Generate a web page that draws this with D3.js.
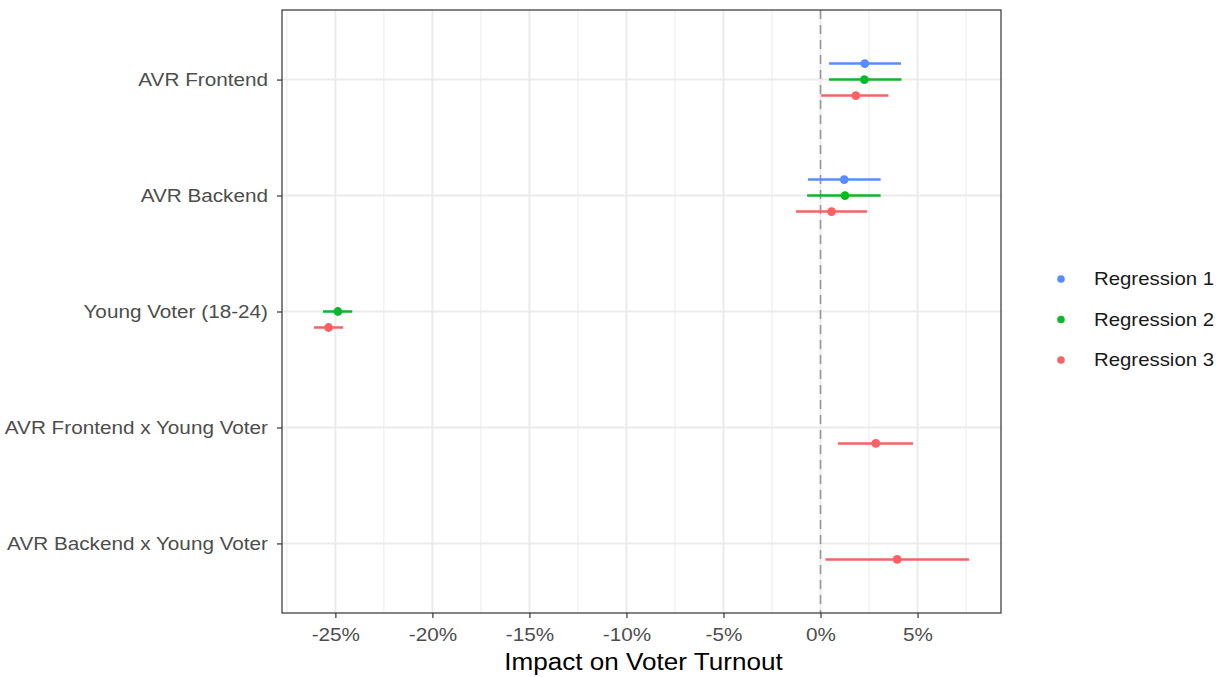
<!DOCTYPE html>
<html>
<head>
<meta charset="utf-8">
<script src="https://cdn.jsdelivr.net/npm/d3@7"></script>
<style>
  body { margin: 0; background: #fff; }
  svg { font-family: "Liberation Sans", Arial, sans-serif; }
</style>
</head>
<body>
<svg id="canvas" width="1225" height="677"></svg>
<script>
// chart values
let categories = ["AVR Frontend", "AVR Backend", "Young Voter (18-24)",
  "AVR Frontend x Young Voter", "AVR Backend x Young Voter"];
let seriesNames = ["Regression 1", "Regression 2", "Regression 3"];
let seriesColors = ["#5A8DFB", "#10B52E", "#F36464"];

let reg1Est = [2.28, 1.22, null, null, null];
let reg1Low = [0.44, -0.65, null, null, null];
let reg1High = [4.15, 3.10, null, null, null];

let reg2Est = [2.26, 1.26, -24.87, null, null];
let reg2Low = [0.44, -0.69, -25.64, null, null];
let reg2High = [4.17, 3.10, -24.13, null, null];

let reg3Est = [1.82, 0.57, -25.35, 2.85, 3.95];
let reg3Low = [0.03, -1.27, -26.10, 0.90, 0.25];
let reg3High = [3.50, 2.40, -24.60, 4.77, 7.66];

let xTicks = [-25, -20, -15, -10, -5, 0, 5];
let xMinor = [-27.5, -22.5, -17.5, -12.5, -7.5, -2.5, 2.5, 7.5];

let estimates = [reg1Est, reg2Est, reg3Est];
let lows = [reg1Low, reg2Low, reg3Low];
let highs = [reg1High, reg2High, reg3High];

let rows = [];
seriesNames.forEach((s, i) => {
  categories.forEach((c, j) => {
    if (estimates[i][j] !== null) {
      rows.push({series: i, cat: c, est: estimates[i][j], lo: lows[i][j], hi: highs[i][j]});
    }
  });
});

let svg = d3.select("#canvas");
let panelLeft = 282, panelRight = 1001, panelTop = 10, panelBottom = 613;
let stretch = 1.12; // text in the reference is a bit wide

let x = d3.scaleLinear().domain([-27.75, 9.3]).range([panelLeft, panelRight]);
let y = d3.scalePoint().domain(categories).range([panelTop, panelBottom]).padding(0.6);
let dodge = y.step() * 0.138;
let offset = (s) => (s - 1) * dodge;

// grid
let grid = svg.append("g");
grid.selectAll(".minor").data(xMinor).enter().append("line")
  .attr("x1", d => x(d)).attr("x2", d => x(d))
  .attr("y1", panelTop).attr("y2", panelBottom)
  .attr("stroke", "#EBEBEB").attr("stroke-width", 1);
grid.selectAll(".majx").data(xTicks).enter().append("line")
  .attr("x1", d => x(d)).attr("x2", d => x(d))
  .attr("y1", panelTop).attr("y2", panelBottom)
  .attr("stroke", "#EBEBEB").attr("stroke-width", 2);
grid.selectAll(".majy").data(categories).enter().append("line")
  .attr("x1", panelLeft).attr("x2", panelRight)
  .attr("y1", d => y(d)).attr("y2", d => y(d))
  .attr("stroke", "#EBEBEB").attr("stroke-width", 2);

// zero line
svg.append("line")
  .attr("x1", x(0)).attr("x2", x(0))
  .attr("y1", panelTop).attr("y2", panelBottom)
  .attr("stroke", "#999999").attr("stroke-width", 1.6)
  .attr("stroke-dasharray", "9,6");

// error bars and points
svg.selectAll(".bar").data(rows).enter().append("line")
  .attr("x1", d => x(d.lo)).attr("x2", d => x(d.hi))
  .attr("y1", d => y(d.cat) + offset(d.series))
  .attr("y2", d => y(d.cat) + offset(d.series))
  .attr("stroke", d => seriesColors[d.series])
  .attr("stroke-width", 2.5);
svg.selectAll(".pt").data(rows).enter().append("circle")
  .attr("cx", d => x(d.est))
  .attr("cy", d => y(d.cat) + offset(d.series))
  .attr("r", 4.4)
  .attr("fill", d => seriesColors[d.series]);

// panel border
svg.append("rect")
  .attr("x", panelLeft).attr("y", panelTop)
  .attr("width", panelRight - panelLeft).attr("height", panelBottom - panelTop)
  .attr("fill", "none").attr("stroke", "#333333").attr("stroke-width", 1.2);

// axes
let xAxis = svg.append("g")
  .attr("transform", `translate(0,${panelBottom})`)
  .call(d3.axisBottom(x).tickValues(xTicks).tickSize(5).tickPadding(5)
    .tickFormat(d => d + "%"));
let yAxis = svg.append("g")
  .attr("transform", `translate(${panelLeft},0)`)
  .call(d3.axisLeft(y).tickSize(5).tickPadding(9));

[xAxis, yAxis].forEach(ax => {
  ax.select(".domain").remove();
  ax.selectAll(".tick line").attr("stroke", "#333333").attr("stroke-width", 1.2);
  ax.selectAll(".tick text")
    .attr("fill", "#4D4D4D")
    .style("font-size", "18.5px")
    .style("font-family", "'Liberation Sans', Arial, sans-serif");
});
xAxis.selectAll(".tick text").attr("transform", `scale(${stretch},1)`).attr("dy", "1em");
yAxis.selectAll(".tick text")
  .attr("x", -14 / stretch)
  .attr("transform", `scale(${stretch},1)`);

// axis title
svg.append("text")
  .attr("transform", `translate(${(panelLeft + panelRight) / 2 + 2},670) scale(${stretch},1)`)
  .attr("text-anchor", "middle")
  .style("font-size", "23.3px")
  .attr("fill", "#000")
  .text("Impact on Voter Turnout");

// legend
let legend = svg.append("g");
seriesNames.forEach((s, i) => {
  let ly = 279 + i * 40.5;
  legend.append("circle")
    .attr("cx", 1061).attr("cy", ly).attr("r", 3.8)
    .attr("fill", seriesColors[i]);
  legend.append("text")
    .attr("transform", `translate(1094,${ly}) scale(${stretch},1)`)
    .attr("dy", "0.35em")
    .style("font-size", "18.2px")
    .attr("fill", "#1A1A1A")
    .text(s);
});
</script>
</body>
</html>
